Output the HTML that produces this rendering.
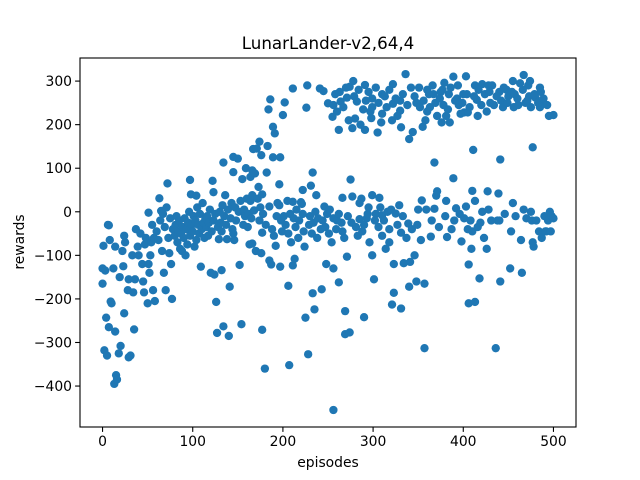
<!DOCTYPE html>
<html><head><meta charset="utf-8"><style>
html,body{margin:0;padding:0;background:#fff;}
svg{display:block;font-family:"DejaVu Sans","Liberation Sans",sans-serif;}
</style></head><body>
<svg id="chart" width="640" height="480" viewBox="0 0 640 480">
<rect x="0" y="0" width="640" height="480" fill="#fff"/>
<text x="328" y="49" font-size="16.7" text-anchor="middle">LunarLander-v2,64,4</text>
<text x="328" y="467" font-size="13.9" text-anchor="middle">episodes</text>
<text x="24" y="242" font-size="13.9" text-anchor="middle" transform="rotate(-90 24 242)">rewards</text>
<g id="points"></g>
<g id="axes"></g>
</svg>
<script>
const xTicks=[0,100,200,300,400,500];
const yTicks=[-400,-300,-200,-100,0,100,200,300];
const episodes=[
0,0,1,2,3,4,5,6,7,7,8,9,10,12,13,14,14,15,16,18,19,20,22,23,24,24,25,28,29,29,31,33,34,35,36,37,39,40,42,44,45,46,47,48,50,51,51,52,53,54,
55,56,57,58,60,62,63,64,65,66,67,68,69,70,71,72,73,74,75,76,77,78,80,81,82,83,84,85,86,87,88,89,90,91,92,93,94,95,96,97,97,98,99,100,101,102,103,104,104,105,106,107,108,109,110,111,112,113,114,115,116,
117,118,119,120,121,122,123,123,124,125,126,127,128,129,130,131,132,132,133,134,134,135,136,137,138,139,140,141,142,143,144,145,145,145,146,147,148,150,151,152,153,154,155,156,157,158,159,160,161,162,163,164,164,165,166,166,166,167,168,169,170,
171,172,173,174,174,175,176,176,177,177,177,178,180,181,182,183,184,185,185,186,187,188,189,189,190,191,192,193,194,196,196,197,197,198,199,200,201,202,203,205,206,206,207,208,209,211,211,211,212,213,214,215,217,218,220,221,222,222,223,224,225,226,227,228,229,230,231,232,233,233,234,235,236,237,238,239,241,242,243,244,245,246,247,248,249,250,251,252,254,255,256,256,256,256,
258,259,260,262,262,262,264,265,266,266,268,269,269,271,271,272,274,274,275,276,277,277,278,280,281,282,283,285,285,287,288,289,290,290,291,291,293,294,295,296,298,299,299,299,299,301,302,303,305,306,307,308,310,310,310,310,312,314,316,318,318,320,321,321,322,322,323,323,325,327,329,330,330,331,331,331,333,334,336,337,339,340,340,341,343,
344,346,348,348,349,350,352,353,354,355,357,357,359,360,360,362,364,365,367,368,368,370,371,371,373,375,376,378,379,380,381,381,382,384,385,387,389,389,390,392,393,395,396,398,400,401,401,403,403,405,405,406,406,408,409,410,410,411,413,413,413,415,416,416,418,419,421,421,423,426,427,428,428,430,431,
432,434,436,438,439,440,440,441,441,442,444,446,448,450,452,453,454,455,455,456,458,460,463,464,465,467,467,469,470,472,473,475,475,476,477,477,478,480,481,484,485,485,487,488,490,491,492,494,495,496,497,498,500,500,
260,263,267,270,273,279,284,286,292,295,297,303,306,309,313,315,318,325,327,333,338,342,346,351,356,358,363,366,369,374,377,383,386,391,394,397,399,404,407,412,417,420,424,426,429,437,445,449,457,461,466,471,474,479,483,486,489,493];
const rewards=[
-165,-130,-78,-318,-135,-243,-330,-30,-265,-31,-65,-206,-210,-130,-395,-80,-275,-375,-385,-325,-150,-308,-90,-125,-55,-233,-70,-180,-155,-334,-330,-100,-185,-270,-155,-40,-80,-100,-50,-120,-160,-185,-75,-60,-210,-2,-120,-140,-100,-70,
-30,-180,-60,-205,-45,-65,31,-20,2,-90,-5,-140,-35,-180,10,65,-60,-95,-15,-120,-200,-40,-55,-30,-10,-70,-45,-20,-85,-50,-90,-35,-60,-15,-100,-40,-75,-25,0,73,-55,40,-30,-45,-10,-80,-20,37,-65,10,-30,-50,-5,-126,-40,20,-25,-60,-15,-35,-10,
-55,-25,5,-140,-45,71,45,-20,-144,-5,-207,-278,-35,-63,0,-25,-45,-134,15,113,-263,-10,38,-30,-63,5,-285,-172,-15,20,-40,126,91,-50,-65,10,-20,122,0,-122,25,-258,75,-30,5,-10,100,30,-35,-5,-75,80,25,-15,95,38,-73,144,3,88,-90,
145,30,57,161,-20,10,130,-95,40,-48,-271,-5,-360,-30,90,151,235,12,-112,258,-121,-40,195,125,-55,180,-78,-10,20,63,15,125,-126,-20,-45,222,-10,251,-30,25,-170,-50,-352,-5,-70,283,23,-123,-15,-108,-35,5,-60,-20,22,18,50,-5,-45,-80,-243,239,290,-327,-30,-10,60,-50,90,-187,-25,-224,0,38,-60,-15,283,-40,-178,-20,277,12,-35,-120,-5,249,-50,5,-70,218,-455,245,-15,-130,
270,-40,-20,-5,-162,188,253,-25,32,-45,-60,-228,-281,262,-103,-10,287,-277,74,-25,192,35,300,214,-35,253,-55,20,-17,30,-45,235,-30,-242,291,188,-15,-5,10,-70,215,260,240,38,-100,-155,-20,-5,182,-35,32,10,270,225,-8,-55,-20,-85,0,-40,-70,5,210,-213,293,248,-120,-186,-4,-30,15,255,232,194,-48,-222,-10,-118,316,-60,-27,167,-172,-115,-40,
183,-100,250,-160,-30,5,240,-65,26,195,-165,-313,5,280,230,270,-57,-20,270,113,7,37,47,220,-35,275,205,245,296,-10,25,220,-58,270,205,-40,310,77,-20,8,260,245,-5,-68,270,228,-15,311,12,228,-40,-121,-210,-20,-85,48,-45,142,290,25,-207,257,220,-35,-153,-25,293,0,-60,-85,47,290,5,250,-20,
290,245,-313,-20,42,275,-20,120,-160,255,240,-5,280,265,-130,-45,275,300,20,240,-10,260,295,-65,-140,314,5,250,-15,290,265,0,240,-20,148,-70,-80,262,-20,-45,285,240,-60,255,-10,-45,-45,-20,220,0,-45,-10,222,-15,
230,275,240,285,210,265,280,200,255,275,230,285,250,205,265,240,280,260,220,270,245,285,265,285,255,210,240,290,250,260,280,235,285,255,290,225,250,270,240,265,280,245,270,230,275,265,285,250,270,245,280,255,300,270,250,275,260,245];

const L=80,R=576,T=58,B=427;
const xMin=-25,xMax=525,yMin=-494,yMax=353;
function xs(v){return L+(v-xMin)/(xMax-xMin)*(R-L);}
function ys(v){return B-(v-yMin)/(yMax-yMin)*(B-T);}
const NS="http://www.w3.org/2000/svg";
const pg=document.getElementById('points');
const n=Math.min(episodes.length,rewards.length);
for(let i=0;i<n;i++){
  const c=document.createElementNS(NS,'circle');
  c.setAttribute('cx',xs(episodes[i]).toFixed(2));
  c.setAttribute('cy',ys(rewards[i]).toFixed(2));
  c.setAttribute('r','4.17');
  c.setAttribute('fill','#1f77b4');
  
  
  pg.appendChild(c);
}
const ag=document.getElementById('axes');
const frame=document.createElementNS(NS,'rect');
frame.setAttribute('x',L);frame.setAttribute('y',T);
frame.setAttribute('width',R-L);frame.setAttribute('height',B-T);
frame.setAttribute('fill','none');frame.setAttribute('stroke','#000');frame.setAttribute('stroke-width','1.1');


ag.appendChild(frame);
xTicks.forEach(t=>{
  const x=xs(t);
  const l=document.createElementNS(NS,'line');
  l.setAttribute('x1',x);l.setAttribute('x2',x);l.setAttribute('y1',B);l.setAttribute('y2',B+4.9);
  l.setAttribute('stroke','#000');l.setAttribute('stroke-width','1.1');
  
  
  ag.appendChild(l);
  const tx=document.createElementNS(NS,'text');
  tx.setAttribute('x',x);tx.setAttribute('y',B+19);
  tx.setAttribute('font-size','13.9');tx.setAttribute('text-anchor','middle');
  tx.textContent=String(t);
  
  
  ag.appendChild(tx);
});
yTicks.forEach(t=>{
  const y=ys(t);
  const l=document.createElementNS(NS,'line');
  l.setAttribute('x1',L-4.9);l.setAttribute('x2',L);l.setAttribute('y1',y);l.setAttribute('y2',y);
  l.setAttribute('stroke','#000');l.setAttribute('stroke-width','1.1');
  
  
  ag.appendChild(l);
  const tx=document.createElementNS(NS,'text');
  tx.setAttribute('x',L-8);tx.setAttribute('y',y+5);
  tx.setAttribute('font-size','13.9');tx.setAttribute('text-anchor','end');
  tx.textContent=t<0?'\u2212'+Math.abs(t):String(t);
  
  
  ag.appendChild(tx);
});
</script>
</body></html>
